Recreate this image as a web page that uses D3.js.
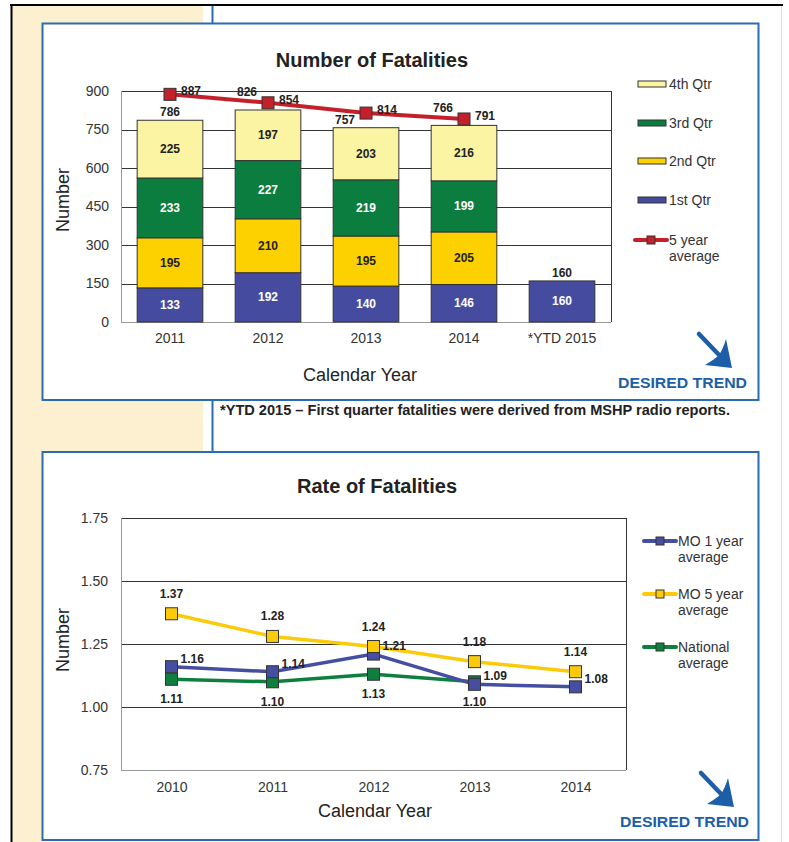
<!DOCTYPE html>
<html>
<head>
<meta charset="utf-8" />
<title>Fatalities</title>
<style>
  body { margin: 0; background: #fff; }
  svg text { font-family: "Liberation Sans", Arial, sans-serif; }
</style>
</head>
<body>
<script src="https://d3js.org/d3.v7.min.js"></script>
<script>
// ---- data: number of fatalities ----
var years = ["2011", "2012", "2013", "2014", "*YTD 2015"];
var q1 = [133, 192, 140, 146, 160];
var q2 = [195, 210, 195, 205, 0];
var q3 = [233, 227, 219, 199, 0];
var q4 = [225, 197, 203, 216, 0];
var totals = [786, 826, 757, 766, 160];
var avg5 = [887, 854, 814, 791, null];
var countTicks = [0, 150, 300, 450, 600, 750, 900];

// ---- data: rate of fatalities ----
var rateYears = ["2010", "2011", "2012", "2013", "2014"];
var mo1 = [1.16, 1.14, 1.21, 1.09, 1.08];
var mo5 = [1.37, 1.28, 1.24, 1.18, 1.14];
var natl = [1.11, 1.10, 1.13, 1.10, null];
var rateTicks = [0.75, 1.00, 1.25, 1.50, 1.75];

var W = 789, H = 842;
var cream = "#fdf0d0", blue = "#2a6bb5", ink = "#222";
var cQ1 = "#454c9f", cQ2 = "#fdd000", cQ3 = "#0b7d3e", cQ4 = "#fbf4a2", cRed = "#c4202b";

var svg = d3.select("body").append("svg").attr("width", W).attr("height", H);

// ---- page frame ----
svg.append("rect").attr("x", 12).attr("y", 6).attr("width", 191).attr("height", 446).attr("fill", cream);
svg.append("rect").attr("x", 12).attr("y", 450).attr("width", 30).attr("height", H - 450).attr("fill", cream);
svg.append("line").attr("x1", 212.5).attr("x2", 212.5).attr("y1", 6).attr("y2", 452)
   .attr("stroke", blue).attr("stroke-width", 2);
svg.append("line").attr("x1", 11.5).attr("x2", 11.5).attr("y1", 4).attr("y2", H)
   .attr("stroke", "#000").attr("stroke-width", 2);
svg.append("line").attr("x1", 10).attr("x2", 783).attr("y1", 5).attr("y2", 5)
   .attr("stroke", "#000").attr("stroke-width", 2);
svg.append("line").attr("x1", 781.5).attr("x2", 781.5).attr("y1", 6).attr("y2", H)
   .attr("stroke", "#ddd").attr("stroke-width", 1);

function panel(y0, y1) {
  svg.append("rect").attr("x", 42.5).attr("y", y0).attr("width", 716).attr("height", y1 - y0)
     .attr("fill", "#fff").attr("stroke", blue).attr("stroke-width", 2);
}
panel(23.5, 400);
panel(452, 840);

function desiredTrend(dx, dy) {
  var g = svg.append("g").attr("transform", "translate(" + dx + "," + dy + ")");
  g.append("line").attr("x1", 699).attr("y1", 334).attr("x2", 721).attr("y2", 357)
   .attr("stroke", "#1d5ea8").attr("stroke-width", 4.5).attr("stroke-linecap", "round");
  g.append("path").attr("d", "M732,368 L705,365 Q715,359 719,355 Q723,349 726,339 Z")
   .attr("fill", "#1d5ea8");
  g.append("text").attr("x", 747).attr("y", 388).attr("text-anchor", "end")
   .attr("font-size", 15).attr("font-weight", "bold").attr("fill", "#1d5ea8")
   .attr("textLength", 129).attr("lengthAdjust", "spacingAndGlyphs")
   .text("DESIRED TREND");
}
desiredTrend(0, 0);
desiredTrend(2, 439);

svg.append("text").attr("x", 220).attr("y", 415).attr("font-size", 14.5).attr("font-weight", "bold")
   .attr("fill", ink).attr("textLength", 510).attr("lengthAdjust", "spacingAndGlyphs")
   .text("*YTD 2015 \u2013 First quarter fatalities were derived from MSHP radio reports.");

function styleTicks(sel) {
  sel.select(".domain").remove();
  sel.selectAll("text").attr("font-size", 14).attr("fill", "#333")
     .attr("font-family", "Liberation Sans, Arial");
}

// ================= chart 1: Number of Fatalities =================
var x1 = d3.scaleBand().domain(years).range([121, 611]).paddingInner(0.33).paddingOuter(0.165);
var y1 = d3.scaleLinear().domain([0, 900]).range([322, 91]);

svg.append("text").attr("x", 372).attr("y", 67).attr("text-anchor", "middle")
   .attr("font-size", 20).attr("font-weight", "bold").attr("fill", ink).text("Number of Fatalities");

var g1 = svg.append("g");
g1.selectAll("line.grid").data(countTicks.filter(d => d > 0)).enter().append("line")
  .attr("x1", 121).attr("x2", 611).attr("y1", d => Math.round(y1(d)) + 0.5).attr("y2", d => Math.round(y1(d)) + 0.5)
  .attr("stroke", "#333").attr("stroke-width", 1);
g1.append("line").attr("x1", 611.5).attr("x2", 611.5).attr("y1", y1(900)).attr("y2", y1(0)).attr("stroke", "#333");
g1.append("line").attr("x1", 121.5).attr("x2", 121.5).attr("y1", y1(900)).attr("y2", y1(0) + 1).attr("stroke", "#999");
g1.append("line").attr("x1", 121).attr("x2", 611).attr("y1", y1(0) + 0.5).attr("y2", y1(0) + 0.5).attr("stroke", "#999");

svg.append("g").attr("transform", "translate(109,0)")
   .call(d3.axisLeft(y1).tickValues(countTicks).tickSize(0).tickPadding(0)).call(styleTicks);
svg.append("g").attr("transform", "translate(0,333)")
   .call(d3.axisBottom(x1).tickSize(0).tickPadding(0)).call(styleTicks);

var stackRows = years.map((y, i) => ({ year: y, q1: q1[i], q2: q2[i], q3: q3[i], q4: q4[i] }));
var keys = ["q1", "q2", "q3", "q4"];
var colors = { q1: cQ1, q2: cQ2, q3: cQ3, q4: cQ4 };
var labelColors = { q1: "#fff", q2: ink, q3: "#fff", q4: ink };
var stacked = d3.stack().keys(keys)(stackRows);

stacked.forEach(function (layer) {
  var segs = layer.filter(d => d[1] - d[0] > 0);
  g1.selectAll("rect." + layer.key).data(segs).enter().append("rect")
    .attr("x", d => x1(d.data.year)).attr("width", x1.bandwidth())
    .attr("y", d => y1(d[1])).attr("height", d => y1(d[0]) - y1(d[1]))
    .attr("fill", colors[layer.key]).attr("stroke", "#333").attr("stroke-width", 1);
  g1.selectAll("text." + layer.key).data(segs).enter().append("text")
    .attr("x", d => x1(d.data.year) + x1.bandwidth() / 2)
    .attr("y", d => (y1(d[0]) + y1(d[1])) / 2 + 4)
    .attr("text-anchor", "middle").attr("font-size", 12).attr("font-weight", "bold")
    .attr("fill", labelColors[layer.key]).text(d => d[1] - d[0]);
});

// totals above bars (nudged left when the average marker sits on top)
function nudged(i) {
  return avg5[i] != null && Math.abs(y1(avg5[i]) - (y1(totals[i]) - 8)) < 14;
}
g1.selectAll("text.total").data(years).enter().append("text")
  .attr("x", (d, i) => x1(d) + x1.bandwidth() / 2 - (nudged(i) ? 21 : 0))
  .attr("y", function (d, i) {
    var base = y1(totals[i]) - 4;
    // keep clear of the average line when it runs just above the bar
    if (nudged(i) && y1(avg5[i]) > base - 4) base = y1(avg5[i]) - 7;
    return base;
  })
  .attr("text-anchor", "middle").attr("font-size", 12).attr("font-weight", "bold").attr("fill", ink)
  .text((d, i) => totals[i]);

var avgPts = years.map((y, i) => ({ year: y, v: avg5[i] })).filter(d => d.v != null);
var line1 = d3.line().x(d => x1(d.year) + x1.bandwidth() / 2).y(d => y1(d.v));
g1.append("path").datum(avgPts).attr("d", line1).attr("fill", "none")
  .attr("stroke", cRed).attr("stroke-width", 4);
g1.selectAll("rect.avg").data(avgPts).enter().append("rect")
  .attr("x", d => x1(d.year) + x1.bandwidth() / 2 - 6).attr("y", d => y1(d.v) - 6)
  .attr("width", 12).attr("height", 12).attr("fill", cRed).attr("stroke", "#333").attr("stroke-width", 1);
g1.selectAll("text.avg").data(avgPts).enter().append("text")
  .attr("x", d => x1(d.year) + x1.bandwidth() / 2 + 11).attr("y", d => y1(d.v) + 1)
  .attr("font-size", 12).attr("font-weight", "bold").attr("fill", ink).text(d => d.v);

svg.append("text").attr("transform", "translate(69,200) rotate(-90)").attr("text-anchor", "middle")
   .attr("font-size", 18).attr("fill", ink).text("Number");
svg.append("text").attr("x", 360).attr("y", 381).attr("text-anchor", "middle")
   .attr("font-size", 18).attr("fill", ink).text("Calendar Year");

// legend 1
var leg1 = [
  { name: "4th Qtr", color: cQ4, y: 84 },
  { name: "3rd Qtr", color: cQ3, y: 123 },
  { name: "2nd Qtr", color: cQ2, y: 161 },
  { name: "1st Qtr", color: cQ1, y: 200 }
];
leg1.forEach(function (d) {
  svg.append("rect").attr("x", 638).attr("y", d.y - 3).attr("width", 28).attr("height", 6)
     .attr("fill", d.color).attr("stroke", "#333").attr("stroke-width", 1);
  svg.append("text").attr("x", 669).attr("y", d.y + 5).attr("font-size", 14).attr("fill", "#333").text(d.name);
});
function lineLegend(x, y, color, lines) {
  svg.append("line").attr("x1", x).attr("x2", x + 32).attr("y1", y).attr("y2", y)
     .attr("stroke", color).attr("stroke-width", 4).attr("stroke-linecap", "round");
  svg.append("rect").attr("x", x + 12).attr("y", y - 4).attr("width", 8).attr("height", 8)
     .attr("fill", color).attr("stroke", "#333").attr("stroke-width", 1);
  lines.forEach(function (t, i) {
    svg.append("text").attr("x", x + 34).attr("y", y + 5 + i * 16).attr("font-size", 14)
       .attr("fill", "#333").text(t);
  });
}
lineLegend(635, 240, cRed, ["5 year", "average"]);

// ================= chart 2: Rate of Fatalities =================
var x2 = d3.scalePoint().domain(rateYears).range([121, 626]).padding(0.5);
var y2 = d3.scaleLinear().domain([0.75, 1.75]).range([770, 518]);

svg.append("text").attr("x", 377).attr("y", 493).attr("text-anchor", "middle")
   .attr("font-size", 20).attr("font-weight", "bold").attr("fill", ink).text("Rate of Fatalities");

var g2 = svg.append("g");
g2.selectAll("line.grid").data(rateTicks.filter(d => d > 0.75)).enter().append("line")
  .attr("x1", 121).attr("x2", 626).attr("y1", d => Math.round(y2(d)) + 0.5).attr("y2", d => Math.round(y2(d)) + 0.5)
  .attr("stroke", "#333");
g2.append("line").attr("x1", 626.5).attr("x2", 626.5).attr("y1", y2(1.75)).attr("y2", y2(0.75)).attr("stroke", "#333");
g2.append("line").attr("x1", 121.5).attr("x2", 121.5).attr("y1", y2(1.75)).attr("y2", y2(0.75) + 1).attr("stroke", "#999");
g2.append("line").attr("x1", 121).attr("x2", 626).attr("y1", y2(0.75) + 0.5).attr("y2", y2(0.75) + 0.5).attr("stroke", "#999");

svg.append("g").attr("transform", "translate(108,0)")
   .call(d3.axisLeft(y2).tickValues(rateTicks).tickFormat(d3.format(".2f")).tickSize(0).tickPadding(0))
   .call(styleTicks);
svg.append("g").attr("transform", "translate(0,782)")
   .call(d3.axisBottom(x2).tickSize(0).tickPadding(0)).call(styleTicks);

var series = [
  { vals: natl, color: "#0f7f3f", lx: 0, ly: 20, anchor: "middle" },
  { vals: mo1, color: "#464ea2", lx: 9, ly: -8, anchor: "start" },
  { vals: mo5, color: "#fbcb0a", lx: 0, ly: -20, anchor: "middle" }
];
var line2 = d3.line().defined(d => d.v != null).x(d => x2(d.year)).y(d => y2(d.v));
series.forEach(function (s) {
  var pts = rateYears.map((y, i) => ({ year: y, v: s.vals[i] }));
  g2.append("path").datum(pts).attr("d", line2).attr("fill", "none")
    .attr("stroke", s.color).attr("stroke-width", 3.5);
});
series.forEach(function (s) {
  var pts = rateYears.map((y, i) => ({ year: y, v: s.vals[i] })).filter(d => d.v != null);
  g2.selectAll(null).data(pts).enter().append("rect")
    .attr("x", d => x2(d.year) - 6).attr("y", d => y2(d.v) - 6).attr("width", 12).attr("height", 12)
    .attr("fill", s.color).attr("stroke", "#333").attr("stroke-width", 1);
});
series.forEach(function (s) {
  var pts = rateYears.map((y, i) => ({ year: y, v: s.vals[i] })).filter(d => d.v != null);
  g2.selectAll(null).data(pts).enter().append("text")
    .attr("x", d => x2(d.year) + s.lx).attr("y", d => y2(d.v) + s.ly + 4)
    .attr("text-anchor", s.anchor).attr("font-size", 12).attr("font-weight", "bold").attr("fill", ink)
    .text(d => d3.format(".2f")(d.v));
});

svg.append("text").attr("transform", "translate(69,640) rotate(-90)").attr("text-anchor", "middle")
   .attr("font-size", 18).attr("fill", ink).text("Number");
svg.append("text").attr("x", 375).attr("y", 817).attr("text-anchor", "middle")
   .attr("font-size", 18).attr("fill", ink).text("Calendar Year");

lineLegend(644, 541, "#464ea2", ["MO 1 year", "average"]);
lineLegend(644, 594, "#fbcb0a", ["MO 5 year", "average"]);
lineLegend(644, 647, "#0f7f3f", ["National", "average"]);
</script>
</body>
</html>
